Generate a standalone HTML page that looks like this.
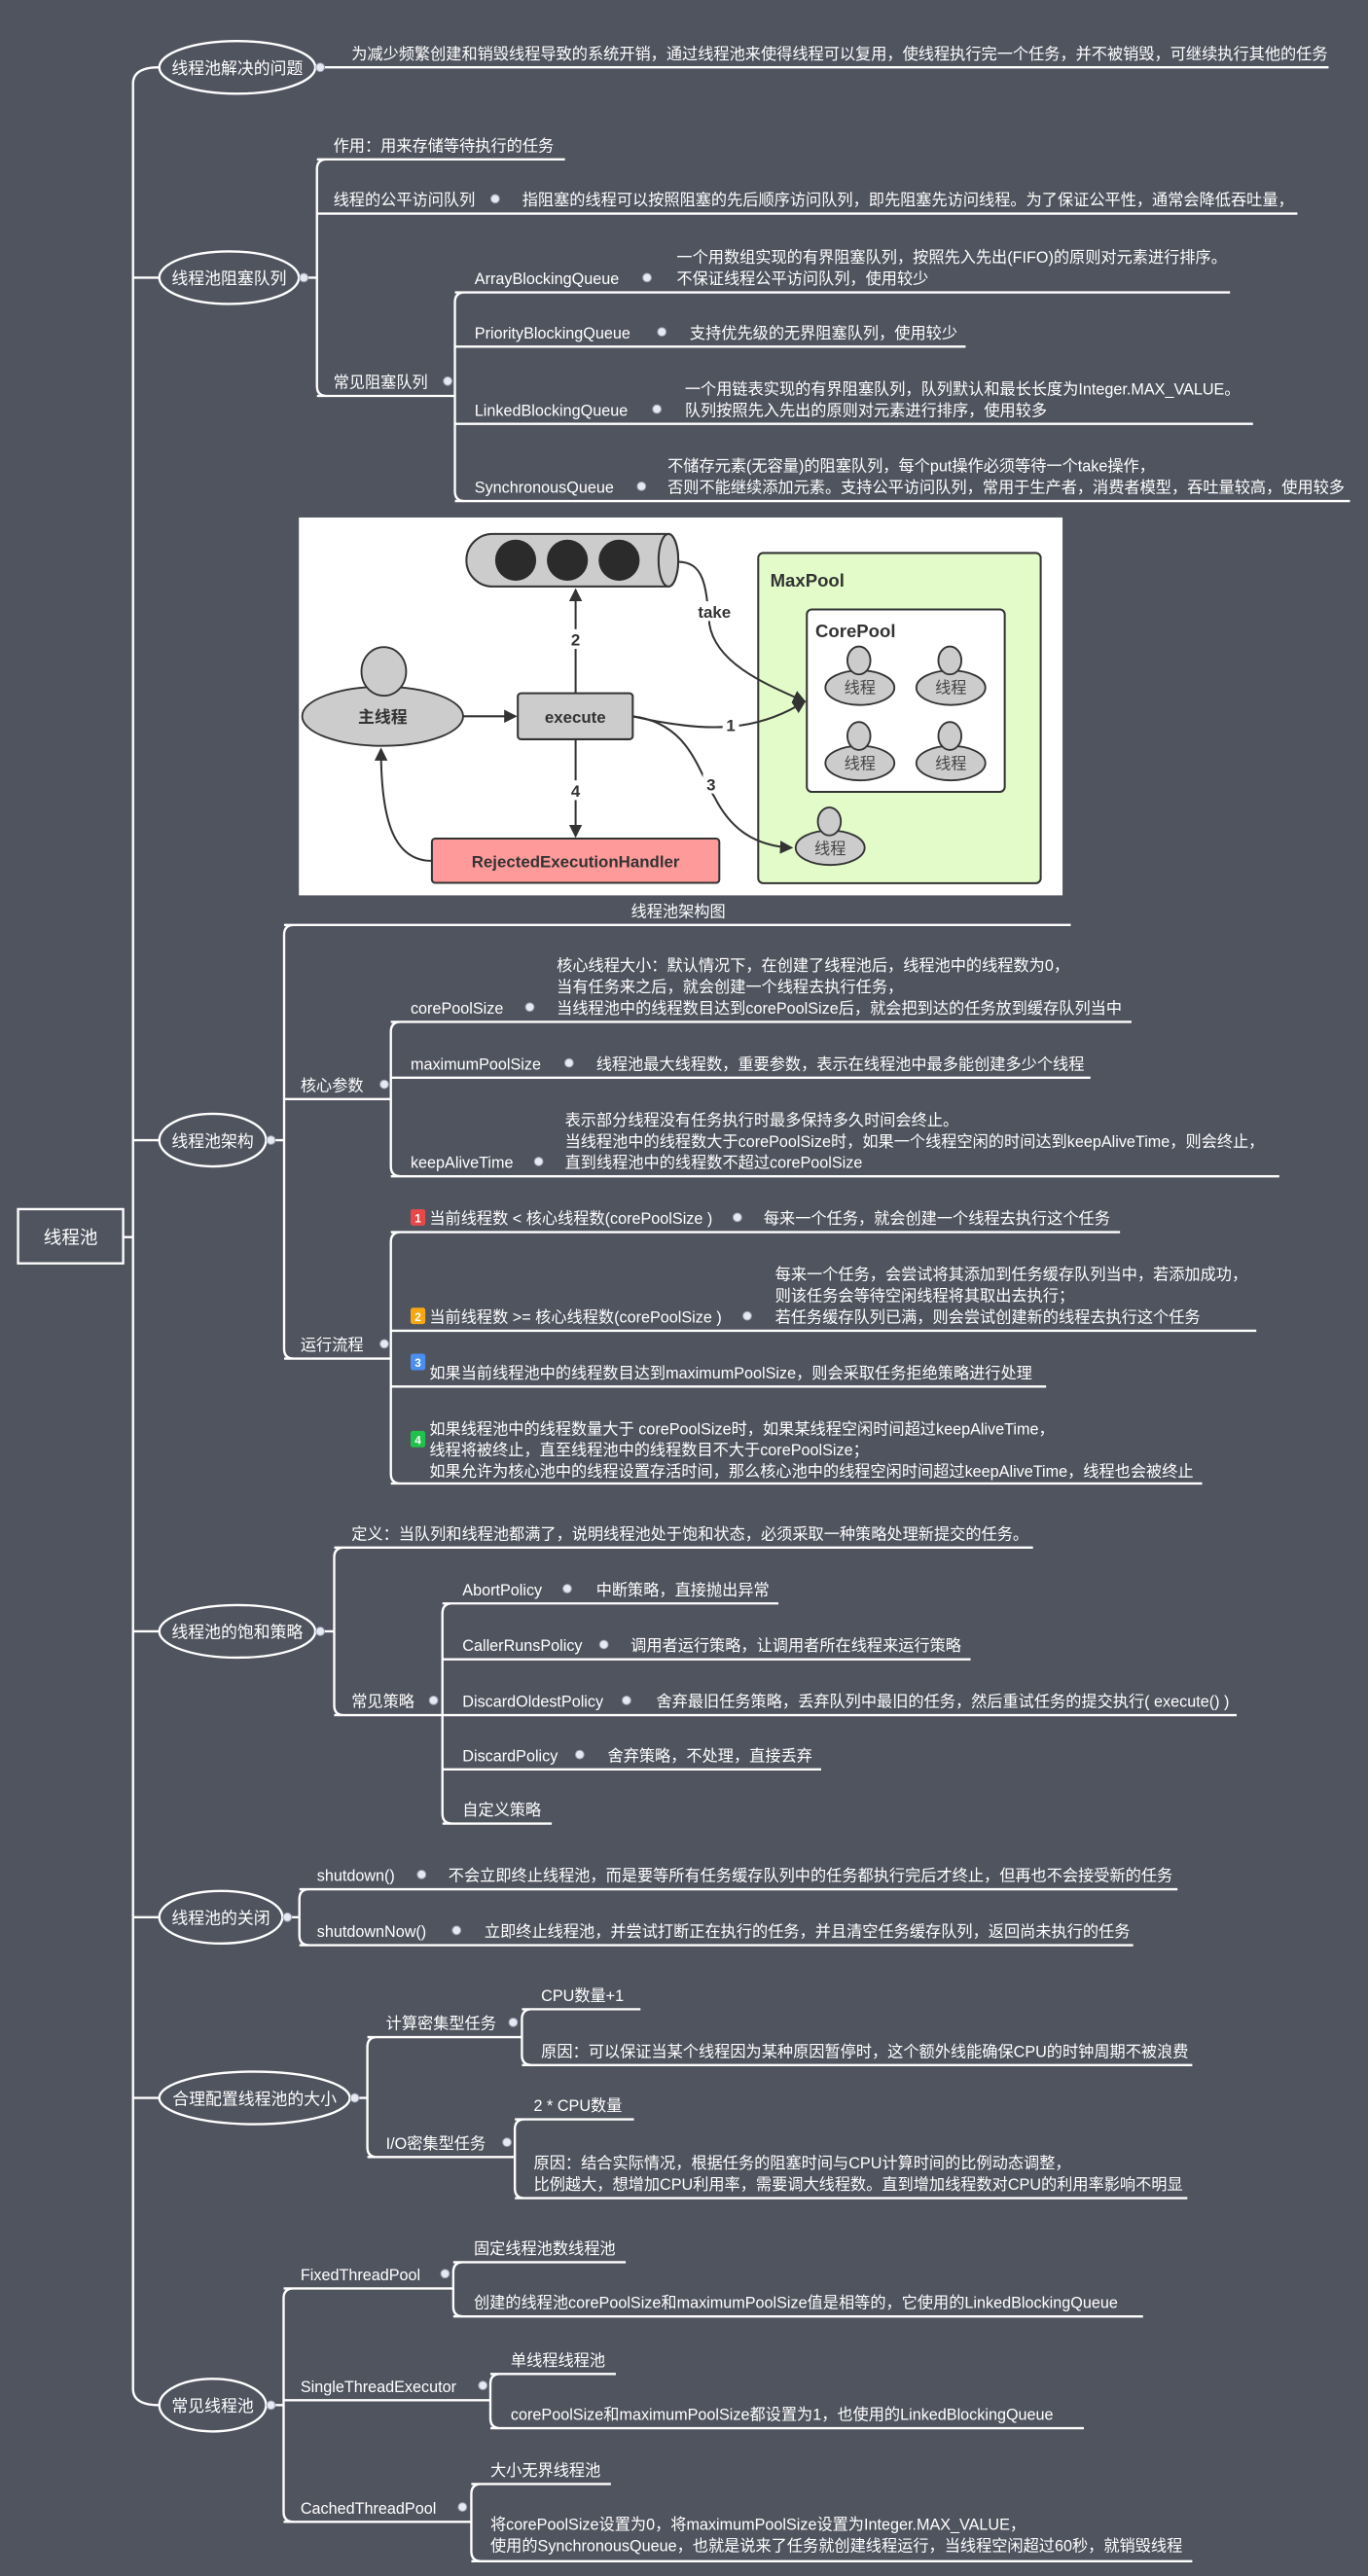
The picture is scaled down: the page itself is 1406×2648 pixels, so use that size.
<!DOCTYPE html>
<html><head><meta charset="utf-8"><style>
html,body{margin:0;padding:0;background:#50545f;}
svg{display:block}
text{font-family:"Liberation Sans","Noto Sans CJK SC",sans-serif;fill:#fff;font-size:9.6px}
.w{stroke:#fff;stroke-width:1.4;fill:none}
.d{fill:#e6e8f2;stroke:#9aa0b4;stroke-width:0.6}
.b{font-weight:bold;fill:#333;font-size:10px}
.k{stroke:#333;stroke-width:1.2;fill:none}
.badge{font-size:7px;font-weight:bold;fill:#fff}
</style></head><body>
<svg width="1406" height="2648" viewBox="0 0 833 1568" preserveAspectRatio="none" xmlns="http://www.w3.org/2000/svg">
<defs>
<marker id="ar" markerWidth="8" markerHeight="8" refX="7" refY="4" orient="auto" markerUnits="userSpaceOnUse"><path d="M0,0 L8,4 L0,8 Z" fill="#333"/></marker>
</defs>
<rect width="833" height="1568" fill="#50545f"/>

<!-- root & trunk -->
<rect x="11" y="736" width="64" height="33" class="w" stroke-width="1.8"/>
<text x="43" y="757" text-anchor="middle" style="font-size:11px">线程池</text>
<path class="w" d="M75,753 H81 M97,41 Q81,41 81,51 V1454 Q81,1464 97,1464 M81,169 H97 M81,694 H97 M81,993 H97 M81,1167 H97 M81,1277 H97"/>

<!-- Section 1 -->
<ellipse cx="144.5" cy="41" rx="47.5" ry="16" class="w" stroke-width="1.8"/>
<text x="144.5" y="45" text-anchor="middle" style="font-size:10px">线程池解决的问题</text>
<path class="w" d="M192,41 H809"/><circle cx="195" cy="41" r="2.6" class="d"/>
<text x="214" y="36">为减少频繁创建和销毁线程导致的系统开销，通过线程池来使得线程可以复用，使线程执行完一个任务，并不被销毁，可继续执行其他的任务</text>

<!-- Section 2 -->
<ellipse cx="139.5" cy="169" rx="42.5" ry="16" class="w" stroke-width="1.8"/>
<text x="139.5" y="173" text-anchor="middle" style="font-size:10px">线程池阻塞队列</text>
<path class="w" d="M182,169 H193 M199,97 Q193,97 193,103 V235 Q193,241 199,241 M193,97 H344 M193,130 H790 M193,241 H277"/>
<circle cx="185" cy="169" r="2.6" class="d"/>
<text x="203" y="92">作用：用来存储等待执行的任务</text>
<text x="203" y="125">线程的公平访问队列</text><circle cx="301.5" cy="121" r="2.6" class="d"/>
<text x="318" y="125">指阻塞的线程可以按照阻塞的先后顺序访问队列，即先阻塞先访问线程。为了保证公平性，通常会降低吞吐量，</text>
<text x="203" y="236">常见阻塞队列</text><circle cx="272.6" cy="232" r="2.6" class="d"/>
<path class="w" d="M283,178 Q277,178 277,184 V299 Q277,305 283,305 M277,178 H749 M277,211 H588 M277,258 H763 M277,305 H822"/>
<text x="289" y="173">ArrayBlockingQueue</text><circle cx="394" cy="169" r="2.6" class="d"/>
<text x="412" y="160">一个用数组实现的有界阻塞队列，按照先入先出(FIFO)的原则对元素进行排序。</text>
<text x="412" y="173">不保证线程公平访问队列，使用较少</text>
<text x="289" y="206">PriorityBlockingQueue</text><circle cx="403" cy="202" r="2.6" class="d"/>
<text x="420" y="206">支持优先级的无界阻塞队列，使用较少</text>
<text x="289" y="253">LinkedBlockingQueue</text><circle cx="400" cy="249" r="2.6" class="d"/>
<text x="417" y="240">一个用链表实现的有界阻塞队列，队列默认和最长长度为Integer.MAX_VALUE。</text>
<text x="417" y="253">队列按照先入先出的原则对元素进行排序，使用较多</text>
<text x="289" y="300">SynchronousQueue</text><circle cx="390.6" cy="296" r="2.6" class="d"/>
<text x="406.5" y="287">不储存元素(无容量)的阻塞队列，每个put操作必须等待一个take操作，</text>
<text x="406.5" y="300">否则不能继续添加元素。支持公平访问队列，常用于生产者，消费者模型，吞吐量较高，使用较多</text>

<!-- Architecture image -->
<rect x="182" y="315" width="465" height="230" fill="#fff"/>
<path d="M300,325 H407 A6,16 0 0 1 407,357 H300 A16,16 0 0 1 300,325 Z" fill="#ccc" stroke="#333" stroke-width="1.2"/>
<ellipse cx="407" cy="341" rx="6" ry="16" fill="#ccc" stroke="#333" stroke-width="1.2"/>
<circle cx="314" cy="341" r="12.5" fill="#2b2b2b"/><circle cx="345.5" cy="341" r="12.5" fill="#2b2b2b"/><circle cx="377" cy="341" r="12.5" fill="#2b2b2b"/>
<rect x="461.7" y="336.6" width="172" height="201" rx="3" fill="#e2fbc9" stroke="#333" stroke-width="1.2"/>
<text x="469" y="357" class="b" style="font-size:11px">MaxPool</text>
<rect x="491.3" y="371" width="120.5" height="111" rx="3" fill="#fff" stroke="#333" stroke-width="1.2"/>
<text x="496.5" y="388" class="b" style="font-size:11px">CorePool</text>
<g fill="#ccc" stroke="#333" stroke-width="1.1">
<ellipse cx="523.6" cy="418.6" rx="21" ry="10.5"/><ellipse cx="523" cy="402" rx="7" ry="8.5"/>
<ellipse cx="579" cy="418.6" rx="21" ry="10.5"/><ellipse cx="578.4" cy="402" rx="7" ry="8.5"/>
<ellipse cx="523.6" cy="464.5" rx="21" ry="10.5"/><ellipse cx="523" cy="448" rx="7" ry="8.5"/>
<ellipse cx="579" cy="464.5" rx="21" ry="10.5"/><ellipse cx="578.4" cy="448" rx="7" ry="8.5"/>
<ellipse cx="505.5" cy="516" rx="21" ry="10.5"/><ellipse cx="505" cy="500" rx="7" ry="8.5"/>
<ellipse cx="233" cy="436" rx="49" ry="18"/><ellipse cx="233.7" cy="408.7" rx="13.6" ry="14.8"/>
</g>
<g style="fill:#444;font-size:9.5px" text-anchor="middle">
<text x="523.6" y="422" style="fill:#444">线程</text><text x="579" y="422" style="fill:#444">线程</text>
<text x="523.6" y="468" style="fill:#444">线程</text><text x="579" y="468" style="fill:#444">线程</text>
<text x="505.5" y="520" style="fill:#444">线程</text>
</g>
<text x="233" y="440" text-anchor="middle" class="b">主线程</text>
<rect x="315.3" y="422" width="70" height="28" rx="2" fill="#ccc" stroke="#333" stroke-width="1.2"/>
<text x="350.3" y="440" text-anchor="middle" class="b">execute</text>
<rect x="263" y="510.4" width="175" height="27" rx="2" fill="#ff9a9a" stroke="#333" stroke-width="1.2"/>
<text x="350.5" y="528" text-anchor="middle" class="b">RejectedExecutionHandler</text>
<path class="k" marker-end="url(#ar)" d="M282,436 L314,436"/>
<path class="k" marker-end="url(#ar)" d="M350.5,422 L350.5,359"/>
<path class="k" marker-end="url(#ar)" d="M350.5,450 L350.5,509"/>
<path class="k" marker-end="url(#ar)" d="M263,524 C240,524 232,500 232,456"/>
<path class="k" marker-end="url(#ar)" d="M385,436 C430,446 460,446 490,427"/>
<path class="k" marker-end="url(#ar)" d="M413,342 C430,342 430,360 432,380 C436,405 470,418 490,427"/>
<path class="k" marker-end="url(#ar)" d="M385,436 C420,440 425,470 435,485 C445,505 460,515 482,516"/>
<rect x="345" y="383" width="11" height="12" fill="#fff"/><text x="350.5" y="393" text-anchor="middle" class="b">2</text>
<rect x="345" y="475" width="11" height="12" fill="#fff"/><text x="350.5" y="485" text-anchor="middle" class="b">4</text>
<rect x="423" y="366" width="24" height="12" fill="#fff"/><text x="435" y="376" text-anchor="middle" class="b">take</text>
<rect x="440" y="435" width="10" height="12" fill="#fff"/><text x="445" y="445" text-anchor="middle" class="b">1</text>
<rect x="428" y="471" width="10" height="12" fill="#fff"/><text x="433" y="481" text-anchor="middle" class="b">3</text>

<!-- Section 3 -->
<ellipse cx="129.5" cy="694" rx="32.5" ry="16" class="w" stroke-width="1.8"/>
<text x="129.5" y="698" text-anchor="middle" style="font-size:10px">线程池架构</text>
<path class="w" d="M162,694 H173 M179,563 Q173,563 173,569 V821 Q173,827 179,827 M173,563 H652 M173,669 H238 M173,827 H238"/>
<circle cx="165" cy="694" r="2.6" class="d"/>
<text x="413" y="558" text-anchor="middle">线程池架构图</text>
<text x="183" y="664">核心参数</text><circle cx="234" cy="660" r="2.6" class="d"/>
<text x="183" y="822">运行流程</text><circle cx="234" cy="818" r="2.6" class="d"/>
<path class="w" d="M244,622 Q238,622 238,628 V710 Q238,716 244,716 M238,622 H689 M238,656 H664 M238,716 H779"/>
<text x="250" y="617">corePoolSize</text><circle cx="322.6" cy="613" r="2.6" class="d"/>
<text x="339" y="591">核心线程大小：默认情况下，在创建了线程池后，线程池中的线程数为0，</text>
<text x="339" y="604">当有任务来之后，就会创建一个线程去执行任务，</text>
<text x="339" y="617">当线程池中的线程数目达到corePoolSize后，就会把到达的任务放到缓存队列当中</text>
<text x="250" y="651">maximumPoolSize</text><circle cx="346.5" cy="647" r="2.6" class="d"/>
<text x="363" y="651">线程池最大线程数，重要参数，表示在线程池中最多能创建多少个线程</text>
<text x="250" y="711">keepAliveTime</text><circle cx="328" cy="707" r="2.6" class="d"/>
<text x="344" y="685">表示部分线程没有任务执行时最多保持多久时间会终止。</text>
<text x="344" y="698">当线程池中的线程数大于corePoolSize时，如果一个线程空闲的时间达到keepAliveTime，则会终止，</text>
<text x="344" y="711">直到线程池中的线程数不超过corePoolSize</text>
<path class="w" d="M244,750 Q238,750 238,756 V897 Q238,903 244,903 M238,750 H682 M238,810 H765 M238,844 H637 M238,903 H732"/>
<rect x="250" y="736" width="9" height="10" rx="1.5" fill="#e8484a"/><text x="254.5" y="744" text-anchor="middle" class="badge">1</text>
<text x="261.5" y="745">当前线程数 &lt; 核心线程数(corePoolSize )</text><circle cx="449" cy="741" r="2.6" class="d"/>
<text x="465" y="745">每来一个任务，就会创建一个线程去执行这个任务</text>
<rect x="250" y="796" width="9" height="10" rx="1.5" fill="#f5a814"/><text x="254.5" y="804" text-anchor="middle" class="badge">2</text>
<text x="261.5" y="805">当前线程数 &gt;= 核心线程数(corePoolSize )</text><circle cx="455" cy="801" r="2.6" class="d"/>
<text x="472" y="779">每来一个任务，会尝试将其添加到任务缓存队列当中，若添加成功，</text>
<text x="472" y="792">则该任务会等待空闲线程将其取出去执行；</text>
<text x="472" y="805">若任务缓存队列已满，则会尝试创建新的线程去执行这个任务</text>
<rect x="250" y="824" width="9" height="10" rx="1.5" fill="#4a8ef0"/><text x="254.5" y="832" text-anchor="middle" class="badge">3</text>
<text x="261.5" y="839">如果当前线程池中的线程数目达到maximumPoolSize，则会采取任务拒绝策略进行处理</text>
<rect x="250" y="871" width="9" height="10" rx="1.5" fill="#1fc24a"/><text x="254.5" y="879" text-anchor="middle" class="badge">4</text>
<text x="261.5" y="873">如果线程池中的线程数量大于 corePoolSize时，如果某线程空闲时间超过keepAliveTime，</text>
<text x="261.5" y="886">线程将被终止，直至线程池中的线程数目不大于corePoolSize；</text>
<text x="261.5" y="899">如果允许为核心池中的线程设置存活时间，那么核心池中的线程空闲时间超过keepAliveTime，线程也会被终止</text>

<!-- Section 4 -->
<ellipse cx="144.5" cy="993" rx="47.5" ry="16" class="w" stroke-width="1.8"/>
<text x="144.5" y="997" text-anchor="middle" style="font-size:10px">线程池的饱和策略</text>
<path class="w" d="M192,993 H203.5 M209.5,942 Q203.5,942 203.5,948 V1038 Q203.5,1044 209.5,1044 M203.5,942 H629 M203.5,1044 H269.4"/>
<circle cx="195" cy="993" r="2.6" class="d"/>
<text x="214" y="937">定义：当队列和线程池都满了，说明线程池处于饱和状态，必须采取一种策略处理新提交的任务。</text>
<text x="214" y="1039">常见策略</text><circle cx="264" cy="1035" r="2.6" class="d"/>
<path class="w" d="M275.4,976 Q269.4,976 269.4,982 V1104 Q269.4,1110 275.4,1110 M269.4,976 H474 M269.4,1010 H591 M269.4,1044 H753 M269.4,1077 H500 M269.4,1110 H336"/>
<text x="281.6" y="971">AbortPolicy</text><circle cx="345.4" cy="967" r="2.6" class="d"/><text x="363" y="971">中断策略，直接抛出异常</text>
<text x="281.6" y="1005">CallerRunsPolicy</text><circle cx="367.7" cy="1001" r="2.6" class="d"/><text x="384" y="1005">调用者运行策略，让调用者所在线程来运行策略</text>
<text x="281.6" y="1039">DiscardOldestPolicy</text><circle cx="381.5" cy="1035" r="2.6" class="d"/><text x="399.6" y="1039">舍弃最旧任务策略，丢弃队列中最旧的任务，然后重试任务的提交执行( execute() )</text>
<text x="281.6" y="1072">DiscardPolicy</text><circle cx="353" cy="1068" r="2.6" class="d"/><text x="370" y="1072">舍弃策略，不处理，直接丢弃</text>
<text x="281.6" y="1105">自定义策略</text>

<!-- Section 5 -->
<ellipse cx="134.5" cy="1167" rx="37.5" ry="16" class="w" stroke-width="1.8"/>
<text x="134.5" y="1171" text-anchor="middle" style="font-size:10px">线程池的关闭</text>
<path class="w" d="M172,1167 H182.3 M188.3,1150 Q182.3,1150 182.3,1156 V1178 Q182.3,1184 188.3,1184 M182.3,1150 H717 M182.3,1184 H690"/>
<circle cx="175" cy="1167" r="2.6" class="d"/>
<text x="193" y="1145">shutdown()</text><circle cx="256.7" cy="1141" r="2.6" class="d"/>
<text x="273" y="1145">不会立即终止线程池，而是要等所有任务缓存队列中的任务都执行完后才终止，但再也不会接受新的任务</text>
<text x="193" y="1179">shutdownNow()</text><circle cx="278" cy="1175" r="2.6" class="d"/>
<text x="295" y="1179">立即终止线程池，并尝试打断正在执行的任务，并且清空任务缓存队列，返回尚未执行的任务</text>

<!-- Section 6 -->
<ellipse cx="155" cy="1277" rx="58" ry="16" class="w" stroke-width="1.8"/>
<text x="155" y="1281" text-anchor="middle" style="font-size:10px">合理配置线程池的大小</text>
<path class="w" d="M213,1277 H223.7 M229.7,1240 Q223.7,1240 223.7,1246 V1307 Q223.7,1313 229.7,1313 M223.7,1240 H317.8 M223.7,1313 H313.5"/>
<circle cx="216" cy="1277" r="2.6" class="d"/>
<text x="235" y="1235">计算密集型任务</text><circle cx="312.5" cy="1231" r="2.6" class="d"/>
<path class="w" d="M323.8,1223 Q317.8,1223 317.8,1229 V1251 Q317.8,1257 323.8,1257 M317.8,1223 H390 M317.8,1257 H726"/>
<text x="329.5" y="1218">CPU数量+1</text>
<text x="329.5" y="1252">原因：可以保证当某个线程因为某种原因暂停时，这个额外线能确保CPU的时钟周期不被浪费</text>
<text x="235" y="1308">I/O密集型任务</text><circle cx="308.7" cy="1304" r="2.6" class="d"/>
<path class="w" d="M319.5,1290 Q313.5,1290 313.5,1296 V1332 Q313.5,1338 319.5,1338 M313.5,1290 H386 M313.5,1338 H723"/>
<text x="325" y="1285">2 * CPU数量</text>
<text x="325" y="1320">原因：结合实际情况，根据任务的阻塞时间与CPU计算时间的比例动态调整，</text>
<text x="325" y="1333">比例越大，想增加CPU利用率，需要调大线程数。直到增加线程数对CPU的利用率影响不明显</text>

<!-- Section 7 -->
<ellipse cx="129.5" cy="1464" rx="32.5" ry="16" class="w" stroke-width="1.8"/>
<text x="129.5" y="1468" text-anchor="middle" style="font-size:10px">常见线程池</text>
<path class="w" d="M162,1464 H172.7 M178.7,1393 Q172.7,1393 172.7,1399 V1529 Q172.7,1535 178.7,1535 M172.7,1393 H276 M172.7,1461 H298.6 M172.7,1535 H287"/>
<circle cx="165" cy="1464" r="2.6" class="d"/>
<text x="183" y="1388">FixedThreadPool</text><circle cx="271" cy="1384" r="2.6" class="d"/>
<path class="w" d="M282,1377 Q276,1377 276,1383 V1404 Q276,1410 282,1410 M276,1377 H381 M276,1410 H696"/>
<text x="288.5" y="1372">固定线程池数线程池</text>
<text x="288.5" y="1405">创建的线程池corePoolSize和maximumPoolSize值是相等的，它使用的LinkedBlockingQueue</text>
<text x="183" y="1456">SingleThreadExecutor</text><circle cx="294" cy="1452" r="2.6" class="d"/>
<path class="w" d="M304.6,1445 Q298.6,1445 298.6,1451 V1472 Q298.6,1478 304.6,1478 M298.6,1445 H375 M298.6,1478 H660"/>
<text x="311" y="1440">单线程线程池</text>
<text x="311" y="1473">corePoolSize和maximumPoolSize都设置为1，也使用的LinkedBlockingQueue</text>
<text x="183" y="1530">CachedThreadPool</text><circle cx="281.6" cy="1526" r="2.6" class="d"/>
<path class="w" d="M293,1512 Q287,1512 287,1518 V1553 Q287,1559 293,1559 M287,1512 H372 M287,1559 H726"/>
<text x="298.6" y="1507">大小无界线程池</text>
<text x="298.6" y="1540">将corePoolSize设置为0，将maximumPoolSize设置为Integer.MAX_VALUE，</text>
<text x="298.6" y="1553">使用的SynchronousQueue，也就是说来了任务就创建线程运行，当线程空闲超过60秒，就销毁线程</text>
</svg>
</body></html>
